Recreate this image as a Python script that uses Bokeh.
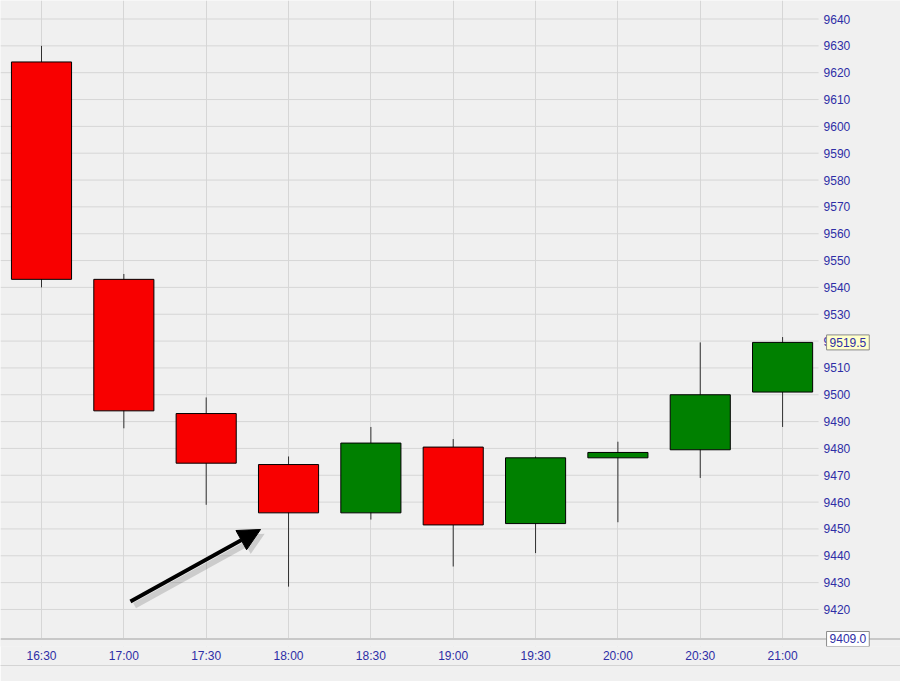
from bokeh.plotting import figure
from bokeh.models import Range1d, FixedTicker, Label, Arrow, NormalHead, ColumnDataSource, LinearAxis, Span
from bokeh.core.properties import value
from bokeh.embed import file_html
from bokeh.resources import INLINE

# ---- data ----
times = ["16:30", "17:00", "17:30", "18:00", "18:30", "19:00", "19:30", "20:00", "20:30", "21:00"]
opens = [9624.0, 9543.0, 9493.0, 9474.0, 9456.0, 9480.5, 9452.0, 9476.5, 9479.5, 9501.0]
closes = [9543.0, 9494.0, 9474.5, 9456.0, 9482.0, 9451.5, 9476.5, 9478.5, 9500.0, 9519.5]
highs = [9630.0, 9545.0, 9499.0, 9477.0, 9488.0, 9483.5, 9477.0, 9482.5, 9519.5, 9521.5]
lows = [9540.0, 9487.5, 9459.0, 9428.5, 9453.5, 9436.0, 9441.0, 9452.5, 9469.0, 9488.0]
price_ticks = list(range(9420, 9641, 10))
price_labels = [str(v) for v in price_ticks]
last_price = 9519.5
scale_low = 9409.0
scale_high = 9646.9
view_low = 9406.2          # a little below the scale, room for the low-price box
arrow_from = (1.08, 9423.0)
arrow_to = (2.66, 9449.8)

UP = "#008000"
DOWN = "#f80000"
BG = "#f0f0f0"
GRID = "#d6d6d6"
TXT = "#2e2ea6"
FONT = "Liberation Sans"

idx = list(range(len(times)))
x_start = -0.498          # left edge of the chart
x_scale_edge = 9.437      # where the price scale begins
x_full = 10.432           # right edge of the canvas

src = ColumnDataSource(dict(
    x=idx,
    high=highs,
    low=lows,
    top=[max(o, c) for o, c in zip(opens, closes)],
    bottom=[min(o, c) for o, c in zip(opens, closes)],
    color=[UP if c >= o else DOWN for o, c in zip(opens, closes)],
))
grid_src = ColumnDataSource(dict(
    y=price_ticks,
    x0=[x_start] * len(price_ticks),
    x1=[x_scale_edge] * len(price_ticks),
    label=price_labels,
))

p = figure(width=900, height=681,
           x_range=Range1d(x_start, x_full),
           y_range=Range1d(view_low, scale_high),
           y_axis_location=None,
           toolbar_location=None, output_backend="svg",
           min_border_left=0, min_border_top=0,
           min_border_right=0, min_border_bottom=35)

p.background_fill_color = BG
p.border_fill_color = BG
p.outline_line_color = None

# grids
p.xgrid.ticker = FixedTicker(ticks=idx)
p.xgrid.grid_line_color = GRID
p.ygrid.visible = False
p.segment(x0="x0", y0="y", x1="x1", y1="y", source=grid_src, line_color=GRID, line_width=1)

# strip below the scale bottom (hides the grid there) and the chart's base line
p.quad(left=x_start, right=x_full, bottom=view_low, top=scale_low,
       fill_color=BG, line_color=None)
p.add_layout(Span(location=scale_low, dimension="width", line_color="#c8c8c8", line_width=2))

# price scale labels
p.text(x="x1", y="y", text="label", source=grid_src, x_offset=5,
       text_font=value(FONT), text_font_size="12px", text_color=TXT,
       text_baseline="middle", text_align="left")

# time axis
xa = p.xaxis[0]
xa.ticker = FixedTicker(ticks=idx)
xa.major_label_overrides = {i: t for i, t in zip(idx, times)}
xa.major_tick_line_color = None
xa.minor_tick_line_color = None
xa.major_tick_out = 0
xa.major_tick_in = 0
xa.axis_line_color = None
xa.major_label_standoff = 2
xa.major_label_text_font = FONT
xa.major_label_text_font_size = "12px"
xa.major_label_text_color = TXT

xa2 = LinearAxis(ticker=FixedTicker(ticks=[]), axis_line_color="#d4d4d4",
                 major_tick_line_color=None, minor_tick_line_color=None,
                 major_tick_out=0, major_tick_in=0)
p.add_layout(xa2, "below")

# candles
p.segment(x0="x", y0="high", x1="x", y1="low", source=src, line_color="#303030", line_width=1)
p.vbar(x="x", width=0.73, top="top", bottom="bottom", source=src,
       fill_color="color", line_color="#000000", line_width=1)

# arrow (shadow + arrow)
p.add_layout(Arrow(end=NormalHead(size=22, fill_color="#000000", fill_alpha=0.15,
                                  line_color=None),
                   x_start=arrow_from[0] + 0.05, y_start=arrow_from[1] - 1.6,
                   x_end=arrow_to[0] + 0.05, y_end=arrow_to[1] - 1.6,
                   line_color="#000000", line_alpha=0.15, line_width=6))
p.add_layout(Arrow(end=NormalHead(size=22, fill_color="#000000", line_color="#000000"),
                   x_start=arrow_from[0], y_start=arrow_from[1],
                   x_end=arrow_to[0], y_end=arrow_to[1],
                   line_color="#000000", line_width=4))

# price boxes on the scale
def price_box(val, bg):
    txt = f"{val:.1f}"
    p.add_layout(Label(x=x_scale_edge, y=val, x_offset=11, y_offset=-3, text=txt,
                       text_alpha=0.0, text_font=FONT, text_font_size="12px",
                       text_baseline="middle", text_align="left",
                       background_fill_color="#555555", background_fill_alpha=0.55,
                       padding=3))
    p.add_layout(Label(x=x_scale_edge, y=val, x_offset=8, text=txt,
                       text_color=TXT, text_font=FONT, text_font_size="12px",
                       text_baseline="middle", text_align="left",
                       background_fill_color=bg, border_line_color="#8a8a8a",
                       padding=3))

price_box(last_price, "#ffffcc")
price_box(scale_low, "#ffffff")

open("out.html", "w").write(file_html(p, INLINE))
